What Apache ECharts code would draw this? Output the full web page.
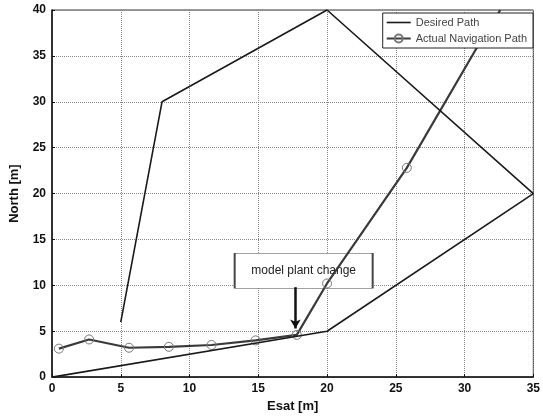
<!DOCTYPE html>
<html>
<head>
<meta charset="utf-8">
<script src="https://cdn.jsdelivr.net/npm/echarts@6/dist/echarts.min.js"></script>
<style>html,body{margin:0;padding:0;background:#fff}#c{width:543px;height:418px}</style>
</head>
<body>
<div id="c"></div>
<script>
var desiredPath = [[0,0],[20,5],[35,20],[20,40],[8,30],[5,6]];
var actualPath = [[0.5,3.1],[2.7,4.1],[5.6,3.2],[8.5,3.3],[11.6,3.5],[14.8,4.0],[17.8,4.6],[20.0,10.2],[25.8,22.8],[31.4,37.2],[32.6,40]];
var xTicks = [0,5,10,15,20,25,30,35];
var yTicks = [0,5,10,15,20,25,30,35,40];
var annotationText = 'model plant change';
var annotationBox = [18.3, 11.6];
var arrowFrom = [17.7, 9.8];
var arrowTo = [17.7, 5.3];

var actualData = actualPath.map(function(p, i){
  return i === actualPath.length - 1 ? {value:p, symbol:'none'} : {value:p};
});

var chart = echarts.init(document.getElementById('c'));
var lbl = {fontFamily:'Liberation Sans, Arial', fontWeight:'bold', fontSize:12, color:'#111'};
chart.setOption({
  animation:false,
  backgroundColor:'#fff',
  grid:{left:51.5, right:7, top:10, bottom:37, show:true, borderColor:'#333', borderWidth:1},
  legend:{
    orient:'vertical', right:10, top:13, z:10, backgroundColor:'#fff', borderColor:'#222', borderWidth:1,
    padding:[4,6,4,3], itemGap:5, itemWidth:24, itemHeight:10,
    textStyle:{fontFamily:'Liberation Sans, Arial', fontSize:11, color:'#444'},
    data:[
      {name:'Desired Path', icon:'path://M0,0 L24,0 L24,1.6 L0,1.6 Z'},
      {name:'Actual Navigation Path'}
    ]
  },
  xAxis:{type:'value', min:0, max:35, interval:5, name:'Esat [m]', nameLocation:'middle', nameGap:20,
    nameTextStyle:{fontFamily:'Liberation Sans, Arial', fontWeight:'bold', fontSize:13, color:'#111'},
    axisLine:{show:true, onZero:false, lineStyle:{color:'#111', width:1.5}},
    axisTick:{show:true, inside:true, length:3, lineStyle:{color:'#111'}},
    axisLabel:Object.assign({margin:6, formatter:function(v){return xTicks.indexOf(v)>=0?String(v):'';}}, lbl),
    splitLine:{show:true, lineStyle:{type:'dotted', color:'#888', width:1}}},
  yAxis:{type:'value', min:0, max:40, interval:5, name:'North [m]', nameLocation:'middle', nameGap:31,
    nameTextStyle:{fontFamily:'Liberation Sans, Arial', fontWeight:'bold', fontSize:13, color:'#111'},
    axisLine:{show:true, onZero:false, lineStyle:{color:'#111', width:1.5}},
    axisTick:{show:true, inside:true, length:3, lineStyle:{color:'#111'}},
    axisLabel:Object.assign({margin:6, formatter:function(v){return yTicks.indexOf(v)>=0?String(v):'';}}, lbl),
    splitLine:{show:true, lineStyle:{type:'dotted', color:'#888', width:1}}},
  series:[
    {name:'annotation', type:'line', data:[], z:1, silent:true,
      markPoint:{silent:true, z:1, symbol:'rect', symbolSize:[138,35],
        itemStyle:{color:'#fff', borderColor:'#444', borderWidth:1},
        label:{show:true, position:'inside', formatter:annotationText, fontFamily:'Liberation Sans, Arial', fontSize:12, color:'#222'},
        data:[{coord:annotationBox}]}
    },
    {name:'Desired Path', type:'line', data:desiredPath, symbol:'none', z:3,
      lineStyle:{color:'#1a1a1a', width:1.6}, itemStyle:{color:'#1a1a1a'}},
    {name:'Actual Navigation Path', type:'line', data:actualData, symbol:'circle', symbolSize:9, z:2,
      showAllSymbol:true,
      lineStyle:{color:'#3a3a3a', width:2.2}, itemStyle:{color:'rgba(255,255,255,0)', borderColor:'#777', borderWidth:1},
      markLine:{silent:true, symbol:['none','arrow'], symbolSize:[8,9], label:{show:false},
        lineStyle:{color:'#111', width:2.5, type:'solid'},
        data:[[{coord:arrowFrom},{coord:arrowTo}]]}
    }
  ]
});
</script>
</body>
</html>
